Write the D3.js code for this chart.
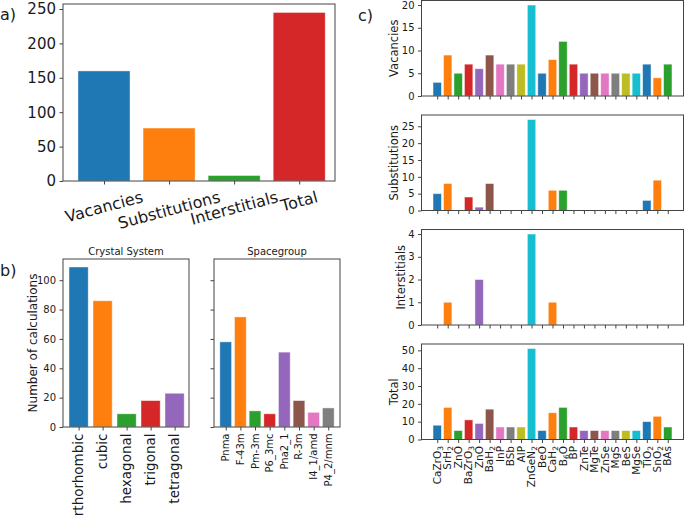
<!DOCTYPE html>
<html>
<head>
<meta charset="utf-8">
<script src="https://cdn.jsdelivr.net/npm/d3@7"></script>
<style>
  body { margin: 0; background: #fff; }
  text { font-family: "DejaVu Sans", sans-serif; fill: #1a1a1a; }
</style>
</head>
<body>
<div id="chart"></div>
<script>
        // Panel a: totals per defect type
        const defectTypes = ['Vacancies', 'Substitutions', 'Interstitials', 'Total'];
        const defectCounts = [160, 77, 8, 245];

        // Panel b: calculations per crystal system / spacegroup
        const crystalSystems = ['orthorhombic', 'cubic', 'hexagonal', 'trigonal', 'tetragonal'];
        const crystalCounts = [109, 86, 9, 18, 23];
        const spacegroups = ['Pnma', 'F-43m', 'Pm-3m', 'P6_3mc', 'Pna2_1', 'R-3m', 'I4_1/amd', 'P4_2/mnm'];
        const spacegroupCounts = [58, 75, 11, 9, 51, 18, 10, 13];

        // Panel c: per material
        const materials = ['CaZrO₃', 'SrH₂', 'ZnO', 'BaZrO₃', 'ZnO', 'BaH₂', 'InP', 'BSb', 'AlP', 'ZnGeN₂',
                           'BeO', 'CaH₂', 'B₆O', 'BP', 'ZnTe', 'MgTe', 'ZnSe', 'MgS', 'BeS', 'MgSe', 'TiO₂', 'SnO₂', 'BAs'];
        const vacancies     = [3, 9, 5, 7, 6, 9, 7, 7, 7, 20, 5, 8, 12, 7, 5, 5, 5, 5, 5, 5, 7, 4, 7];
        const substitutions = [5, 8, 0, 4, 1, 8, 0, 0, 0, 27, 0, 6, 6, 0, 0, 0, 0, 0, 0, 0, 3, 9, 0];
        const interstitials = [0, 1, 0, 0, 2, 0, 0, 0, 0, 4, 0, 1, 0, 0, 0, 0, 0, 0, 0, 0, 0, 0, 0];
        const totals        = [8, 18, 5, 11, 9, 17, 7, 7, 7, 51, 5, 15, 18, 7, 5, 5, 5, 5, 5, 5, 10, 13, 7];

        const colors = d3.schemeCategory10;
        const subDigits = '₀₁₂₃₄₅₆₇₈₉';

        const svg = d3.select("#chart").append("svg")
            .attr("width", 685).attr("height", 515);

        // write a label into a text node, turning unicode subscripts into smaller lowered tspans
        function setLabel(sel, label) {
            let parts = [];
            for (const ch of label) {
                const k = subDigits.indexOf(ch);
                const sub = k >= 0;
                const c = sub ? String(k) : ch;
                if (parts.length && parts[parts.length - 1].sub === sub) parts[parts.length - 1].t += c;
                else parts.push({ t: c, sub: sub });
            }
            parts.forEach(p => {
                const ts = sel.append("tspan").text(p.t);
                if (p.sub) ts.attr("baseline-shift", "-25%").style("font-size", "72%");
            });
        }

        function drawBars(cfg) {
            const g = svg.append("g");
            const n = cfg.values.length;
            const x = d3.scaleLinear().domain(cfg.xDomain).range([cfg.left, cfg.left + cfg.width]);
            const y = d3.scaleLinear().domain([0, cfg.yMax]).range([cfg.top + cfg.height, cfg.top]);

            // bars
            g.selectAll("rect.bar")
                .data(cfg.values)
                .join("rect")
                .attr("class", "bar")
                .attr("x", (d, i) => x(i - 0.4))
                .attr("width", (d, i) => x(i + 0.4) - x(i - 0.4))
                .attr("y", d => y(d))
                .attr("height", d => y(0) - y(d))
                .attr("fill", (d, i) => colors[i % 10])
                .attr("stroke", "#fff")
                .attr("stroke-opacity", 0.55)
                .attr("stroke-width", 0.8);

            // y axis
            const ya = g.append("g")
                .attr("transform", `translate(${cfg.left},0)`)
                .call(d3.axisLeft(y).tickValues(cfg.yTicks).tickSize(3.5).tickPadding(3.5)
                    .tickFormat(cfg.yLabels === false ? () => "" : d3.format("d")));
            ya.select(".domain").remove();
            ya.selectAll("line").attr("stroke", "#444");
            ya.selectAll("text").style("font-size", cfg.yFont + "px").attr("fill", "#1a1a1a");

            // x axis ticks
            const xa = g.append("g")
                .attr("transform", `translate(0,${cfg.top + cfg.height})`)
                .call(d3.axisBottom(x).tickValues(d3.range(n)).tickSize(3.5).tickFormat(() => ""));
            xa.select(".domain").remove();
            xa.selectAll("line").attr("stroke", "#444");

            // frame
            g.append("rect")
                .attr("x", cfg.left).attr("y", cfg.top)
                .attr("width", cfg.width).attr("height", cfg.height)
                .attr("fill", "none").attr("stroke", "#444").attr("stroke-width", 1);

            const base = cfg.top + cfg.height + 3.5 + 3;

            // x labels
            if (cfg.xLabels === "rot90") {
                g.selectAll("text.xl")
                    .data(cfg.cats)
                    .join("text")
                    .attr("class", "xl")
                    .attr("transform", (d, i) => `translate(${x(i)},${base}) rotate(-90)`)
                    .attr("text-anchor", "end")
                    .attr("dy", "0.35em")
                    .style("font-size", cfg.xFont + "px")
                    .each(function (d) { setLabel(d3.select(this), d); });
            } else if (cfg.xLabels === "rot15") {
                const ang = 15 * Math.PI / 180;
                g.selectAll("text.xl")
                    .data(cfg.cats)
                    .join("text")
                    .attr("class", "xl")
                    .attr("text-anchor", "middle")
                    .attr("dy", "0.35em")
                    .style("font-size", cfg.xFont + "px")
                    .text(d => d)
                    .each(function (d, i) {
                        const w = this.getComputedTextLength();
                        const h = cfg.xFont * 1.15;
                        const bh = w * Math.sin(ang) + h * Math.cos(ang);
                        d3.select(this).attr("transform",
                            `translate(${x(i)},${base + bh / 2}) rotate(-15)`);
                    });
            }

            if (cfg.title) {
                g.append("text")
                    .attr("x", cfg.left + cfg.width / 2)
                    .attr("y", cfg.top - 4)
                    .attr("text-anchor", "middle")
                    .style("font-size", "10px")
                    .text(cfg.title);
            }

            if (cfg.ylabel) {
                g.append("text")
                    .attr("transform", `translate(${cfg.ylabelX},${cfg.top + cfg.height / 2}) rotate(-90)`)
                    .attr("text-anchor", "middle")
                    .attr("dy", "0.35em")
                    .style("font-size", cfg.ylabelFont + "px")
                    .text(cfg.ylabel);
            }
        }

        // a)
        drawBars({
            left: 63, top: 4, width: 272, height: 177,
            cats: defectTypes, values: defectCounts,
            xDomain: [-0.63, 3.55], yMax: 257.25, yTicks: d3.range(0, 251, 50),
            yFont: 15, xLabels: "rot15", xFont: 16
        });

        // b)
        drawBars({
            left: 63, top: 259, width: 126, height: 168,
            cats: crystalSystems, values: crystalCounts,
            xDomain: [-0.65, 4.6], yMax: 114.45, yTicks: d3.range(0, 101, 20),
            yFont: 10, xLabels: "rot90", xFont: 13.5,
            title: "Crystal System",
            ylabel: "Number of calculations", ylabelX: 33, ylabelFont: 12
        });
        drawBars({
            left: 214, top: 259, width: 126, height: 168,
            cats: spacegroups, values: spacegroupCounts,
            xDomain: [-0.8, 7.8], yMax: 114.45, yTicks: d3.range(0, 101, 20),
            yFont: 10, yLabels: false, xLabels: "rot90", xFont: 10,
            title: "Spacegroup"
        });

        // c)
        const cPanels = [
            { values: vacancies, yMax: 21, yTicks: d3.range(0, 21, 5), ylabel: "Vacancies", ylabelX: 394, top: 0.5 },
            { values: substitutions, yMax: 28.35, yTicks: d3.range(0, 26, 5), ylabel: "Substitutions", ylabelX: 394, top: 115 },
            { values: interstitials, yMax: 4.2, yTicks: d3.range(0, 5, 1), ylabel: "Interstitials", ylabelX: 400.5, top: 229.5 },
            { values: totals, yMax: 53.55, yTicks: d3.range(0, 51, 10), ylabel: "Total", ylabelX: 394, top: 344 }
        ];
        cPanels.forEach((p, k) => {
            drawBars({
                left: 421.5, top: p.top, width: 262, height: 95.5,
                cats: materials, values: p.values,
                xDomain: [-1.5, 23.5], yMax: p.yMax, yTicks: p.yTicks,
                yFont: 10, xLabels: k === cPanels.length - 1 ? "rot90" : "none", xFont: 10.5,
                ylabel: p.ylabel, ylabelX: p.ylabelX, ylabelFont: 11.5
            });
        });

        // panel letters
        const letters = [
            { t: "a)", x: 0, y: 20 },
            { t: "b)", x: 0, y: 276 },
            { t: "c)", x: 358, y: 21 }
        ];
        svg.selectAll("text.letter")
            .data(letters)
            .join("text")
            .attr("class", "letter")
            .attr("x", d => d.x).attr("y", d => d.y)
            .style("font-size", "16px")
            .text(d => d.t);
</script>
</body>
</html>
